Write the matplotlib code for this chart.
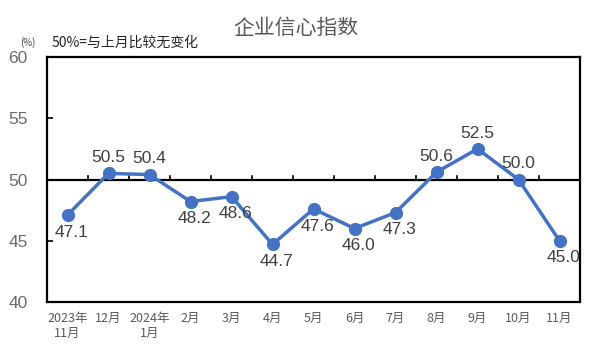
import matplotlib
matplotlib.use("Agg")
import matplotlib.pyplot as plt
import numpy as np

plt.rcParams['font.family'] = ['Noto Sans CJK SC', 'DejaVu Sans']

categories = ["2023年\n11月", "12月", "2024年\n1月", "2月", "3月", "4月", "5月",
              "6月", "7月", "8月", "9月", "10月", "11月"]
values = [47.1, 50.5, 50.4, 48.2, 48.6, 44.7, 47.6, 46.0, 47.3, 50.6, 52.5, 50.0, 45.0]
label_above = [False, True, True, False, False, False, False, False, False, True, True, True, False]
yticks = [40, 45, 50, 55, 60]

fig = plt.figure(figsize=(5.91, 3.54), dpi=100)
ax = fig.add_axes([47/591, 1-302/354, (580-47)/591, (302-57)/354])

x = np.arange(len(values))
ax.plot(x, values, color='#4472C4', lw=2.5, marker='o', ms=8.5, zorder=3)
ax.set_xlim(-0.5, len(values)-0.5)
ax.set_ylim(40, 60)

for s in ax.spines.values():
    s.set_linewidth(1.6)
    s.set_color('black')

ax.axhline(50, color='black', lw=1.6, zorder=2)
# category boundary ticks on the 50 line
for b in np.arange(0.5, len(values)-0.5, 1):
    ax.plot([b, b], [50, 50.25], color='black', lw=1.2, zorder=2)

ax.set_yticks(yticks)
ax.set_yticklabels([str(v) for v in yticks], fontsize=12.5, color='#6b6b6b',
                   family=['Liberation Sans', 'DejaVu Sans'])
ax.tick_params(axis='y', direction='in', length=4, width=1.2, pad=14)
ax.set_xticks(x)
ax.set_xticklabels(categories, fontsize=9, color='#595959', linespacing=1.2)
ax.tick_params(axis='x', length=0, pad=7)

for xi, v, up in zip(x, values, label_above):
    if up:
        ax.annotate(f"{v:.1f}", (xi, v), xytext=(0, 6), textcoords='offset points',
                    ha='center', va='bottom', fontsize=12.5, color='#404040',
                    family=['Liberation Sans', 'DejaVu Sans'])
    else:
        ax.annotate(f"{v:.1f}", (xi, v), xytext=(3, -7), textcoords='offset points',
                    ha='center', va='top', fontsize=12.5, color='#404040',
                    family=['Liberation Sans', 'DejaVu Sans'])

fig.text(296/591, 1-28/354, "企业信心指数", ha='center', va='center', fontsize=15, color='#595959')
fig.text(28/591, 1-43/354, "(%)", ha='center', va='center', fontsize=7, color='#404040')
fig.text(52/591, 1-43/354, "50%=与上月比较无变化", ha='left', va='center', fontsize=10, color='#262626')

fig.savefig("out.png", dpi=100)
